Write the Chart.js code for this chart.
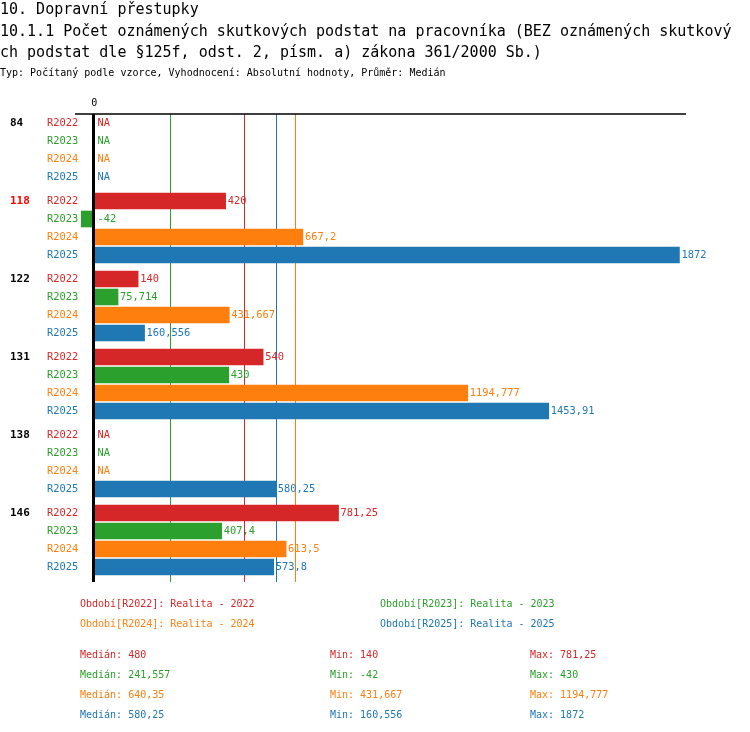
<!DOCTYPE html>
<html><head><meta charset="utf-8">
<script src="https://cdn.jsdelivr.net/npm/chart.js@4/dist/chart.umd.min.js"></script>
<style>
body{margin:0;background:#fff;}
#wrap{position:relative;width:750px;height:732px;overflow:hidden;background:#fff;}
canvas{position:absolute;left:0;top:0;}
.t{position:absolute;white-space:pre;font-family:"DejaVu Sans Mono",monospace;line-height:1;transform:translateY(-50%);}
.big{font-size:15px;color:#000;}
.sm{font-size:10px;}
</style></head><body>
<div id="wrap">
<canvas id="c" width="750" height="732"></canvas>
<div id="txt"></div>
</div>
<script>
// ---- data ----
const titleLines = ['10. Dopravní přestupky',
  '10.1.1 Počet oznámených skutkových podstat na pracovníka (BEZ oznámených skutkový',
  'ch podstat dle §125f, odst. 2, písm. a) zákona 361/2000 Sb.)'];
const subtitle = 'Typ: Počítaný podle vzorce, Vyhodnocení: Absolutní hodnoty, Průměr: Medián';
const categories = ['84','118','122','131','138','146'];
const highlighted = ['118'];
const seriesNames = ['R2022','R2023','R2024','R2025'];
const seriesTitles = ['Realita - 2022','Realita - 2023','Realita - 2024','Realita - 2025'];
const r2022 = [null, 420, 140, 540, null, 781.25];
const r2023 = [null, -42, 75.714, 430, null, 407.4];
const r2024 = [null, 667.2, 431.667, 1194.777, null, 613.5];
const r2025 = [null, 1872, 160.556, 1453.91, 580.25, 573.8];
const xTickLabels = ['0'];
const xMin = -62, xMax = 1893;

// ---- styles ----
const colors = ['#d62728','#2ca02c','#ff7f0e','#1f77b4'];
const series = [r2022, r2023, r2024, r2025];
const MONO = '"DejaVu Sans Mono", monospace';

function fmt(v){ return String(Number(v.toFixed(3))).replace('.', ','); }
function median(arr){
  const s = arr.filter(v=>v!=null).slice().sort((a,b)=>a-b);
  const n = s.length;
  return n%2 ? s[(n-1)/2] : (s[n/2-1]+s[n/2])/2;
}
const vals = series.map(s=>s.filter(v=>v!=null));
const medians = series.map(median);
const mins = vals.map(v=>Math.min(...v));
const maxs = vals.map(v=>Math.max(...v));

// row position on the (linear) category axis: groups separated by an extra third of a row
function rowPos(g, r){ return g*(4+1/3) + r; }
const yMin = -0.5, yMax = 25.5;

// ---- HTML text ----
const txt = document.getElementById('txt');
function addText(s, x, y, cls, color){
  const d = document.createElement('div');
  d.className = 't ' + cls; d.textContent = s;
  d.style.left = x+'px'; d.style.top = y+'px';
  if(color) d.style.color = color;
  txt.appendChild(d);
}
addText(titleLines[0], 0, 9, 'big');
addText(titleLines[1], 0, 31, 'big');
addText(titleLines[2], 0, 52, 'big');
addText(subtitle, 0, 73, 'sm', '#000');
const legX = [80, 380], legY = [604, 624];
seriesNames.forEach((n,i)=>{
  addText('Období['+n+']: '+seriesTitles[i], legX[i%2], legY[Math.floor(i/2)], 'sm', colors[i]);
  const yy = 655 + i*20;
  addText('Medián: '+fmt(medians[i]), 80, yy, 'sm', colors[i]);
  addText('Min: '+fmt(mins[i]), 330, yy, 'sm', colors[i]);
  addText('Max: '+fmt(maxs[i]), 530, yy, 'sm', colors[i]);
});

// ---- chart ----
const overlay = {
  id: 'overlay',
  beforeDatasetsDraw(chart){
    const {ctx, chartArea:a, scales:{x}} = chart;
    ctx.save();
    medians.forEach((m,i)=>{
      const px = Math.round(x.getPixelForValue(m)) + 0.5;
      ctx.strokeStyle = colors[i]; ctx.lineWidth = 1;
      ctx.beginPath(); ctx.moveTo(px, a.top); ctx.lineTo(px, a.bottom); ctx.stroke();
    });
    ctx.strokeStyle = '#000'; ctx.lineWidth = 1.5;
    ctx.beginPath(); ctx.moveTo(a.left, a.top); ctx.lineTo(a.right, a.top); ctx.stroke();
    ctx.restore();
  },
  afterDatasetsDraw(chart){
    const {ctx, chartArea:a, scales:{x,y}} = chart;
    ctx.save();
    const x0 = x.getPixelForValue(0);
    ctx.fillStyle = '#000';
    ctx.fillRect(Math.round(x0)-2, a.top, 3, a.bottom - a.top);
    ctx.font = '10px ' + MONO;
    ctx.textAlign = 'center'; ctx.textBaseline = 'middle';
    ctx.fillText(xTickLabels[0], x0, a.top - 11);
    ctx.textAlign = 'left';
    categories.forEach((c,g)=>{
      ctx.font = 'bold 11px ' + MONO;
      ctx.fillStyle = highlighted.includes(c) ? '#ff0000' : '#000';
      ctx.fillText(c, 10, y.getPixelForValue(rowPos(g,0)));
      series.forEach((s,i)=>{
        const yp = y.getPixelForValue(rowPos(g,i));
        ctx.font = '10.4px ' + MONO;
        ctx.fillStyle = colors[i];
        ctx.fillText(seriesNames[i], 47, yp);
        const v = s[g];
        let lbl, lx;
        if(v == null){ lbl = 'NA'; lx = x0 + 3; }
        else if(v < 0){ lbl = fmt(v); lx = x0 + 3; }
        else { lbl = fmt(v); lx = x.getPixelForValue(v) + 2; }
        ctx.fillText(lbl, lx, yp);
      });
    });
    ctx.restore();
  }
};

new Chart(document.getElementById('c'), {
  type: 'bar',
  data: {
    datasets: series.map((s,i)=>({
      label: seriesNames[i],
      data: s.map((v,g)=>({x: v, y: rowPos(g,i)})).filter(p=>p.x!=null),
      backgroundColor: colors[i],
      borderWidth: 0,
      barThickness: 16,
      grouped: false
    }))
  },
  options: {
    indexAxis: 'y',
    responsive: false,
    animation: false,
    devicePixelRatio: 1,
    events: [],
    layout: { padding: { left: 75, right: 64, top: 114, bottom: 150 } },
    scales: {
      x: { type: 'linear', min: xMin, max: xMax, display: false, offset: false },
      y: { type: 'linear', min: yMin, max: yMax, reverse: true, display: false, offset: false, bounds: 'data', grace: 0,
           afterDataLimits(sc){ sc.min = yMin; sc.max = yMax; } }
    },
    plugins: { legend: { display: false }, tooltip: { enabled: false } }
  },
  plugins: [overlay]
});
</script>
</body></html>
